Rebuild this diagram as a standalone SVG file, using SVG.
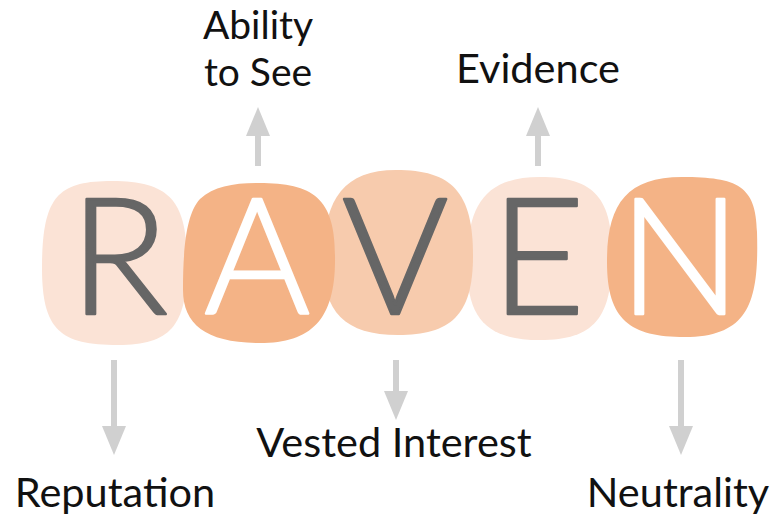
<svg xmlns="http://www.w3.org/2000/svg" width="778" height="518" viewBox="0 0 778 518">
  <defs>
    <style>
      .label { font-family: Lato, "Open Sans", "Liberation Sans", sans-serif; font-size: 41.5px; fill: #111111; text-anchor: middle; }
      .stacked { font-size: 39px; }
      .letter { font-family: Lato, "Open Sans", "Liberation Sans", sans-serif; font-weight: 300; font-size: 162px; text-anchor: middle; stroke-width: 2.6; stroke-linejoin: round; }
      .dark { fill: #666666; stroke: #666666; }
      .light { fill: #ffffff; stroke: #ffffff; }
      .pale { fill: #FBE3D6; }
      .mid { fill: #F7CBAD; }
      .deep { fill: #F4B386; }
      .arrow { stroke: #D0D0D0; stroke-width: 6; fill: none; marker-end: url(#head); }
    </style>
    <marker id="head" viewBox="0 0 29 24" refX="1" refY="12" markerWidth="29" markerHeight="24" markerUnits="userSpaceOnUse" orient="auto">
      <path d="M0,0 L29,12 L0,24 Z" fill="#D0D0D0"/>
    </marker>
  </defs>
  <rect width="778" height="518" fill="#ffffff"/>

  <!-- letter tiles, back to front -->
  <g id="node-E">
    <path class="pale" d="M540 177 C596 177 612 200 612 256 C612 318 594 340 540 340 C488 340 467 320 467 265 C467 205 485 177 540 177 Z"/>
    <text class="letter dark" x="538" y="314">E</text>
  </g>
  <g id="node-N">
    <path class="deep" d="M682 177 C738 177 756 186 757 232 C759 300 750 337 685 337 C630 337 607 320 607 262 C607 205 626 177 682 177 Z"/>
    <text class="letter light" x="680" y="314">N</text>
  </g>
  <g id="node-V">
    <path class="mid" d="M396 170 C452 170 473 192 473 256 C473 316 450 335 398 335 C345 335 323 312 323 262 C323 200 343 170 396 170 Z"/>
    <text class="letter dark" x="395" y="314">V</text>
  </g>
  <g id="node-R">
    <path class="pale" d="M112 181 C172 181 187 203 187 265 C187 326 170 345 118 345 C60 345 42 330 42 268 C42 196 58 181 112 181 Z"/>
    <text class="letter dark" x="119" y="314">R</text>
  </g>
  <g id="node-A">
    <path class="deep" d="M259 183 C313 183 335 198 335 256 C336 319 312 343 260 343 C207 343 183 325 183 290 C183 250 186 214 200 199 C214 186 234 183 259 183 Z"/>
    <text class="letter light" x="257" y="314">A</text>
  </g>

  <!-- connectors -->
  <g id="connectors">
    <line class="arrow" x1="258" y1="166" x2="258" y2="135"/>
    <line class="arrow" x1="538" y1="166" x2="538" y2="135"/>
    <line class="arrow" x1="114" y1="360" x2="114" y2="427"/>
    <line class="arrow" x1="396" y1="360" x2="396" y2="392"/>
    <line class="arrow" x1="681" y1="360" x2="681" y2="427"/>
  </g>

  <!-- labels -->
  <g id="label-ability">
    <text class="label stacked" x="258" y="39">Ability</text>
    <text class="label stacked" x="258" y="86">to See</text>
  </g>
  <g id="label-evidence">
    <text class="label" x="538" y="83">Evidence</text>
  </g>
  <g id="label-reputation">
    <text class="label" x="115" y="507">Reputation</text>
  </g>
  <g id="label-vested">
    <text class="label" x="394" y="457">Vested Interest</text>
  </g>
  <g id="label-neutrality">
    <text class="label" x="678" y="507">Neutrality</text>
  </g>
</svg>
